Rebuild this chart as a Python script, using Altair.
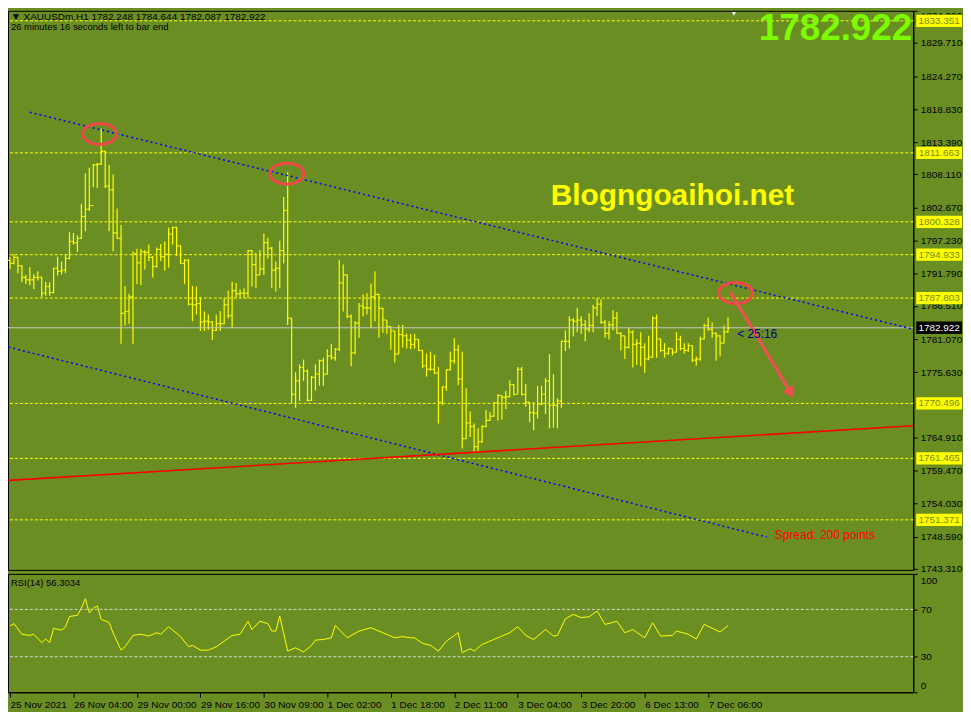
import json
import altair as alt
import pandas as pd

# ---------------- data ----------------
highs = [1794.5, 1795.0, 1794.6, 1793.2, 1791.6, 1792.9, 1791.7, 1792.2, 1791.3, 1790.5,
         1790.4, 1792.8, 1794.6, 1793.8, 1795.0, 1798.6, 1798.5, 1798.1, 1803.3, 1808.3,
         1809.2, 1809.8, 1810.0, 1815.6, 1812.0, 1809.7, 1808.1, 1802.5, 1799.8, 1789.8,
         1788.5, 1795.5, 1795.9, 1795.9, 1795.7, 1796.6, 1794.7, 1796.1, 1796.7, 1797.1,
         1799.4, 1799.5, 1799.5, 1796.4, 1794.2, 1794.2, 1789.8, 1789.7, 1788.0, 1785.6,
         1785.1, 1784.0, 1785.1, 1785.7, 1787.8, 1789.0, 1790.5, 1790.3, 1789.2, 1789.4,
         1795.7, 1795.7, 1795.2, 1795.7, 1798.4, 1797.7, 1796.2, 1793.8, 1797.2, 1804.4,
         1808.5, 1784.5, 1775.6, 1776.9, 1777.7, 1776.1, 1775.0, 1776.9, 1777.7, 1778.0,
         1779.4, 1780.3, 1779.6, 1794.1, 1793.3, 1791.7, 1785.1, 1784.0, 1787.0, 1788.4,
         1788.6, 1790.2, 1792.2, 1788.5, 1786.2, 1784.2, 1783.1, 1782.4, 1783.4, 1783.4,
         1782.0, 1781.9, 1781.9, 1781.0, 1779.3, 1778.7, 1779.0, 1778.5, 1776.5, 1773.3,
         1776.1, 1779.0, 1781.2, 1780.1, 1779.0, 1773.0, 1769.2, 1767.2, 1766.4, 1766.9,
         1769.4, 1769.1, 1770.7, 1772.0, 1771.8, 1772.6, 1774.3, 1773.7, 1776.5, 1776.5,
         1773.7, 1770.7, 1770.7, 1773.4, 1773.4, 1774.7, 1778.6, 1775.3, 1771.3, 1780.8,
         1782.5, 1784.8, 1784.5, 1786.2, 1784.8, 1784.2, 1785.3, 1786.7, 1787.8, 1787.6,
         1784.2, 1784.0, 1785.8, 1785.5, 1782.2, 1781.6, 1782.9, 1782.5, 1781.1, 1782.2,
         1780.4, 1781.6, 1784.8, 1785.1, 1781.1, 1780.4, 1779.7, 1779.5, 1782.2, 1781.6,
         1780.4, 1780.4, 1780.0, 1778.2, 1781.5, 1783.6, 1784.6, 1783.8, 1782.2, 1781.7,
         1783.3, 1784.644]
lows = [1792.6, 1793.3, 1791.9, 1790.4, 1790.1, 1789.9, 1789.3, 1790.7, 1788.0, 1788.2,
        1788.2, 1788.6, 1791.5, 1791.7, 1791.9, 1794.2, 1796.6, 1795.4, 1797.5, 1798.8,
        1802.1, 1806.0, 1805.9, 1809.7, 1805.9, 1798.8, 1795.5, 1797.6, 1780.3, 1783.3,
        1783.6, 1780.3, 1790.1, 1789.9, 1792.5, 1793.9, 1791.2, 1792.8, 1793.9, 1792.3,
        1792.8, 1796.6, 1794.7, 1793.4, 1790.1, 1786.6, 1784.0, 1785.1, 1782.4, 1782.4,
        1782.6, 1780.9, 1782.4, 1782.4, 1783.5, 1784.5, 1782.9, 1787.8, 1787.9, 1787.8,
        1787.8, 1789.7, 1789.5, 1791.6, 1791.6, 1794.3, 1789.4, 1788.9, 1789.4, 1793.5,
        1783.4, 1770.5, 1769.8, 1770.9, 1774.2, 1770.8, 1770.9, 1772.6, 1773.4, 1773.4,
        1775.3, 1777.7, 1777.5, 1779.1, 1785.6, 1784.5, 1776.6, 1778.6, 1781.3, 1784.8,
        1785.1, 1782.9, 1784.0, 1781.3, 1782.1, 1781.9, 1779.3, 1777.2, 1778.6, 1779.7,
        1779.5, 1779.4, 1779.5, 1779.1, 1776.3, 1774.9, 1775.9, 1775.3, 1767.2, 1770.2,
        1772.6, 1775.9, 1777.0, 1773.5, 1763.1, 1764.7, 1765.0, 1762.3, 1762.5, 1764.0,
        1766.6, 1767.6, 1768.3, 1767.7, 1767.8, 1769.6, 1771.5, 1771.8, 1772.1, 1771.8,
        1769.9, 1767.4, 1766.1, 1768.0, 1770.2, 1768.8, 1766.4, 1766.5, 1766.4, 1769.8,
        1779.1, 1779.5, 1781.5, 1782.2, 1781.9, 1780.7, 1782.2, 1782.2, 1784.8, 1783.6,
        1781.3, 1781.0, 1782.5, 1781.9, 1779.2, 1777.8, 1779.5, 1776.4, 1776.8, 1776.6,
        1775.5, 1777.6, 1778.0, 1778.0, 1778.9, 1778.0, 1778.5, 1778.4, 1778.9, 1779.2,
        1778.7, 1779.0, 1777.3, 1776.7, 1777.5, 1781.0, 1782.4, 1781.3, 1777.5, 1778.2,
        1780.4, 1782.087]
closes = [1793.5, 1794.5, 1793.1, 1791.2, 1790.8, 1790.8, 1791.2, 1791.2, 1788.6, 1789.7,
          1788.7, 1792.7, 1792.2, 1792.4, 1794.3, 1797.1, 1796.9, 1797.6, 1801.2, 1802.4,
          1803.0, 1809.7, 1809.8, 1811.9, 1806.2, 1805.6, 1798.5, 1797.6, 1785.3, 1785.6,
          1788.0, 1795.1, 1793.6, 1795.4, 1795.3, 1794.5, 1793.0, 1795.8, 1794.6, 1795.0,
          1798.3, 1799.4, 1796.4, 1793.5, 1794.0, 1786.8, 1786.7, 1786.9, 1783.9, 1784.0,
          1783.9, 1782.5, 1783.6, 1783.6, 1786.7, 1784.9, 1789.0, 1788.5, 1788.6, 1788.6,
          1795.6, 1793.3, 1791.6, 1792.6, 1796.9, 1796.0, 1792.4, 1792.7, 1795.6, 1802.2,
          1784.5, 1772.0, 1774.2, 1776.4, 1775.8, 1771.0, 1774.8, 1775.3, 1777.5, 1775.3,
          1778.3, 1778.0, 1779.4, 1790.3, 1791.6, 1784.8, 1778.8, 1783.7, 1786.5, 1786.2,
          1786.2, 1788.0, 1788.4, 1786.1, 1784.2, 1783.1, 1782.4, 1778.6, 1781.8, 1781.6,
          1780.9, 1780.2, 1781.0, 1779.2, 1776.7, 1776.1, 1776.1, 1775.5, 1770.7, 1773.2,
          1776.0, 1777.5, 1779.3, 1774.5, 1764.7, 1767.3, 1766.7, 1763.4, 1764.2, 1766.7,
          1767.7, 1768.4, 1770.6, 1771.8, 1771.5, 1771.6, 1773.6, 1772.0, 1776.1, 1772.0,
          1770.7, 1769.0, 1768.9, 1770.4, 1772.0, 1774.2, 1770.2, 1770.2, 1770.9, 1780.7,
          1780.7, 1784.2, 1784.0, 1784.2, 1783.4, 1782.7, 1783.3, 1786.2, 1786.8, 1783.8,
          1782.0, 1783.4, 1784.5, 1782.0, 1781.6, 1779.7, 1782.2, 1780.2, 1780.4, 1779.7,
          1777.8, 1778.1, 1784.5, 1781.1, 1779.2, 1778.7, 1779.5, 1778.9, 1781.0, 1779.5,
          1779.2, 1780.0, 1777.6, 1777.8, 1781.1, 1783.3, 1782.7, 1782.0, 1781.6, 1780.4,
          1782.25, 1782.922]
# each H1 bar opens where the previous one closed (first open)
opens = [1794.0] + closes[:-1]

rsi_bar = [0, 1, 3, 5, 6, 8, 9, 10, 11, 13, 14, 15, 17, 18, 19, 20, 21, 22, 23, 25, 26, 28, 29,
           31, 33, 35, 37, 38, 40, 43, 45, 46, 48, 50, 52, 54, 56, 58, 60, 61, 63, 65, 66, 67,
           68, 70, 72, 74, 76, 77, 79, 81, 82, 85, 88, 91, 92, 94, 97, 99, 101, 102, 104, 106,
           108, 110, 113, 114, 116, 117, 119, 121, 124, 126, 128, 130, 132, 135, 137, 138, 140,
           142, 144, 146, 148, 150, 153, 155, 157, 160, 162, 164, 167, 168, 171, 173, 175, 179, 181]
rsi_val = [56, 58, 49, 48, 49, 42, 45, 42, 54, 52.5, 55, 64, 65, 71, 79, 67, 71, 73, 61.5, 59, 50,
           35.6, 38.4, 48, 49, 47.5, 50.3, 49, 55.4, 47, 38.5, 39.6, 35.6, 35.6, 38.4, 43.2, 48,
           49, 60, 53, 60, 58, 51.7, 51.7, 64.4, 34.8, 37.6, 34, 39.6, 44, 44.6, 46, 56.5, 46,
           51.7, 54.5, 53, 50.3, 46, 47, 46, 46, 41.3, 39.6, 34.8, 43.2, 50.3, 33.4, 36.8, 34.8,
           40.4, 43.2, 47.5, 50.3, 55.4, 48, 44.6, 53, 47.5, 48, 62, 65.8, 63, 63.8, 68.6, 57.3,
           60, 50.3, 53, 46, 58.7, 47.5, 48, 51.7, 49, 45, 57.3, 50.9, 56.3034]

levels = [1833.351, 1811.663, 1800.328, 1794.933, 1787.803, 1770.496, 1761.465, 1751.371]
current_price = [1782.922]
price_ticks = [1834.990, 1829.710, 1824.270, 1818.830, 1813.390, 1808.110, 1802.670, 1797.230,
               1791.790, 1786.510, 1781.070, 1775.630, 1764.910, 1759.470, 1754.030,
               1748.590, 1743.310]
rsi_ticks = [0, 30, 70, 100]
rsi_levels = [30, 70]
date_labels = ["25 Nov 2021", "26 Nov 04:00", "29 Nov 00:00", "29 Nov 16:00", "30 Nov 09:00",
               "1 Dec 02:00", "1 Dec 18:00", "2 Dec 11:00", "3 Dec 04:00", "3 Dec 20:00",
               "6 Dec 13:00", "7 Dec 06:00"]
date_tick_bars = [0, 16, 32, 48, 64, 80, 96, 112, 128, 144, 160, 176]

# drawn objects (bar index, price)
upper_channel_x = [5.0, 227.7]
upper_channel_y = [1818.32, 1782.69]
lower_channel_x = [-0.4, 190.8]
lower_channel_y = [1779.75, 1748.54]
red_line_x = [-0.4, 227.7]
red_line_y = [1757.85, 1766.84]
circle_x = [22.6, 69.8, 182.9]
circle_y = [1814.77, 1808.24, 1788.63]
arrow_x = [181.5, 196.5]
arrow_y = [1788.9, 1772.6]
arrow_head_x = [196.8]
arrow_head_y = [1772.2]

# ---------------- styling ----------------
W, H, H2 = 910, 562, 119
BG = "#6b8e23"
FONT = "Liberation Sans"
YEL = "#ffff00"

xs = alt.Scale(domain=[-0.5, 227.7], nice=False, zero=False)
ys = alt.Scale(domain=[1743.15, 1834.99], nice=False, zero=False)

bars = pd.DataFrame({"i": list(range(len(closes))), "o": opens, "h": highs,
                     "l": lows, "c": closes})

base = alt.Chart(bars)
y_axis = alt.Axis(orient="right", values=price_ticks, format=".3f", title=None, grid=False,
                  labelColor="black", tickColor="black", domainColor="black", tickSize=4,
                  labelFont=FONT, labelFontSize=10, labelPadding=3, labelOverlap=False,
                  labelFlush=0.5)

X = lambda f: alt.X(f, type="quantitative", scale=xs, axis=None)
Y = lambda f: alt.Y(f, type="quantitative", scale=ys, axis=y_axis)

lev_df = pd.DataFrame({"p": levels})
cur_df = pd.DataFrame({"p": current_price})

hl = base.mark_rule(color=YEL, strokeWidth=1.2).encode(
    x=X("i"), y=Y("h"), y2="l:Q")
open_t = base.transform_calculate(a="datum.i - 0.45").mark_rule(
    color=YEL, strokeWidth=1.2).encode(x=X("a"), x2="i:Q", y=Y("o"))
close_t = base.transform_calculate(b="datum.i + 0.45").mark_rule(
    color=YEL, strokeWidth=1.2).encode(x=X("i"), x2="b:Q", y=Y("c"))

level_rules = alt.Chart(lev_df).mark_rule(color=YEL, strokeDash=[3, 2], strokeWidth=1).encode(
    y=Y("p"))
cur_rule = alt.Chart(cur_df).mark_rule(color="#c8c8c8", strokeWidth=1).encode(y=Y("p"))


def line_df(xv, yv):
    return pd.DataFrame({"x": xv, "y": yv})


up_line = alt.Chart(line_df(upper_channel_x, upper_channel_y)).mark_line(
    color="#0000ff", strokeDash=[2, 3], strokeWidth=1.5).encode(x=X("x"), y=Y("y"))
low_line = alt.Chart(line_df(lower_channel_x, lower_channel_y)).mark_line(
    color="#0000ff", strokeDash=[2, 3], strokeWidth=1.5).encode(x=X("x"), y=Y("y"))
red_line = alt.Chart(line_df(red_line_x, red_line_y)).mark_line(
    color="#ff0000", strokeWidth=1.6).encode(x=X("x"), y=Y("y"))

ellipse = "M -1 0 A 1 0.62 0 1 0 1 0 A 1 0.62 0 1 0 -1 0"
circles = alt.Chart(line_df(circle_x, circle_y)).mark_point(
    shape=ellipse, size=1156, filled=False, stroke="#f04848", strokeWidth=3, opacity=1
).encode(x=X("x"), y=Y("y"))

arrow = alt.Chart(line_df(arrow_x, arrow_y)).mark_line(
    color="#f05050", strokeWidth=3).encode(x=X("x"), y=Y("y"))
arrow_head = alt.Chart(line_df(arrow_head_x, arrow_head_y)).mark_point(
    shape="triangle-up", size=160, filled=True, color="#f05050", opacity=1, angle=149
).encode(x=X("x"), y=Y("y"))

ann = pd.DataFrame({
    "x": [167.0, 183.3, 192.8],
    "y": [1804.6, 1781.9, 1748.87],
    "t": ["Blogngoaihoi.net", "< 25:16", "Spread: 200 points"],
})
blog = alt.Chart(ann.iloc[[0]]).mark_text(
    font=FONT, fontSize=30, fontWeight="bold", color=YEL, align="center", baseline="middle"
).encode(x=X("x"), y=Y("y"), text="t:N")
countdown = alt.Chart(ann.iloc[[1]]).mark_text(
    font=FONT, fontSize=12, color="#00008b", align="left", baseline="middle"
).encode(x=X("x"), y=Y("y"), text="t:N")
spread = alt.Chart(ann.iloc[[2]]).mark_text(
    font=FONT, fontSize=12, color="#ff0000", align="left", baseline="middle"
).encode(x=X("x"), y=Y("y"), text="t:N")

hdr = pd.DataFrame({"t": ["▼ XAUUSDm,H1  1782.248 1784.644 1782.087 1782.922"]})
hdr2 = pd.DataFrame({"t": ["26 minutes 16 seconds left to bar end"]})
header1 = alt.Chart(hdr).mark_text(font=FONT, fontSize=10, color="black", align="left",
                                   baseline="middle").encode(
    x=alt.value(3), y=alt.value(6), text="t:N")
header2 = alt.Chart(hdr2).mark_text(font=FONT, fontSize=9.5, color="black", align="left",
                                    baseline="middle").encode(
    x=alt.value(3), y=alt.value(16), text="t:N")

big = alt.Chart(cur_df).mark_text(font=FONT, fontSize=37, fontWeight="bold", color="#7cfc00",
                                  align="right", baseline="middle").encode(
    x=alt.value(W - 1), y=alt.value(18), text=alt.Text("p:Q", format=".3f"))

box_path = "M -1 -0.27 L 1 -0.27 L 1 0.27 L -1 0.27 Z"
lev_box = alt.Chart(lev_df).mark_point(shape=box_path, size=46 * 46, filled=True, color=YEL,
                                       opacity=1).encode(x=alt.value(W + 26), y=Y("p"))
lev_txt = alt.Chart(lev_df).mark_text(font=FONT, fontSize=10, color="#7a8a10",
                                      baseline="middle").encode(
    x=alt.value(W + 26), y=Y("p"), text=alt.Text("p:Q", format=".3f"))
cur_box = alt.Chart(cur_df).mark_point(shape=box_path, size=46 * 46, filled=True,
                                       color="black", opacity=1).encode(
    x=alt.value(W + 26), y=Y("p"))
cur_txt = alt.Chart(cur_df).mark_text(font=FONT, fontSize=10, color="white",
                                      baseline="middle").encode(
    x=alt.value(W + 26), y=Y("p"), text=alt.Text("p:Q", format=".3f"))

shift_df = pd.DataFrame({"x": [182.5]})
shift_mark = alt.Chart(shift_df).mark_point(shape="triangle-down", size=20, filled=True,
                                            color="#e8e8e8", opacity=1).encode(
    x=X("x"), y=alt.value(3))

main = alt.layer(
    hl, level_rules, cur_rule, open_t, close_t, up_line, low_line, red_line,
    circles, arrow, arrow_head, blog, countdown, spread, header1, header2, big,
    lev_box, lev_txt, cur_box, cur_txt, shift_mark
).properties(width=W, height=H)

# ---------------- RSI panel ----------------
rsi_df = pd.DataFrame({"x": rsi_bar, "v": rsi_val})
rys = alt.Scale(domain=[0, 100], nice=False, zero=False)
label_expr = json.dumps(date_labels) + "[round(datum.value / 16)]"
rsi_x_axis = alt.Axis(values=date_tick_bars, labelExpr=label_expr, title=None, grid=False,
                      labelAlign="left", labelFlush=False, labelColor="black",
                      tickColor="black", domainColor="black", tickSize=5, labelPadding=2,
                      labelFont=FONT, labelFontSize=10, labelOverlap=False)
rsi_y_axis = alt.Axis(orient="right", values=rsi_ticks, title=None, grid=False,
                      labelColor="black", tickColor="black", domainColor="black", tickSize=4,
                      labelFont=FONT, labelFontSize=10, labelPadding=3, labelFlush=True,
                      labelFlushOffset=-2)

rsi_line = alt.Chart(rsi_df).mark_line(color=YEL, strokeWidth=1).encode(
    x=alt.X("x:Q", scale=xs, axis=rsi_x_axis),
    y=alt.Y("v:Q", scale=rys, axis=rsi_y_axis))
rsi_rules = alt.Chart(pd.DataFrame({"v": rsi_levels})).mark_rule(
    color="#d8d8d8", strokeDash=[3, 2], strokeWidth=1).encode(
    y=alt.Y("v:Q", scale=rys, axis=rsi_y_axis))
rsi_label = alt.Chart(pd.DataFrame({"t": ["RSI(14) 56.3034"]})).mark_text(
    font=FONT, fontSize=9.5, color="black", align="left", baseline="middle").encode(
    x=alt.value(3), y=alt.value(9), text="t:N")

rsi = alt.layer(rsi_line, rsi_rules, rsi_label).properties(width=W, height=H2)

chart = alt.vconcat(main, rsi, spacing=4, bounds="flush").properties(
    background=BG, padding={"left": -4, "top": -1, "right": 0, "bottom": 0}
).configure_view(stroke="black", strokeWidth=1)

chart.save("out.html", embed_options={"renderer": "svg", "actions": False})
